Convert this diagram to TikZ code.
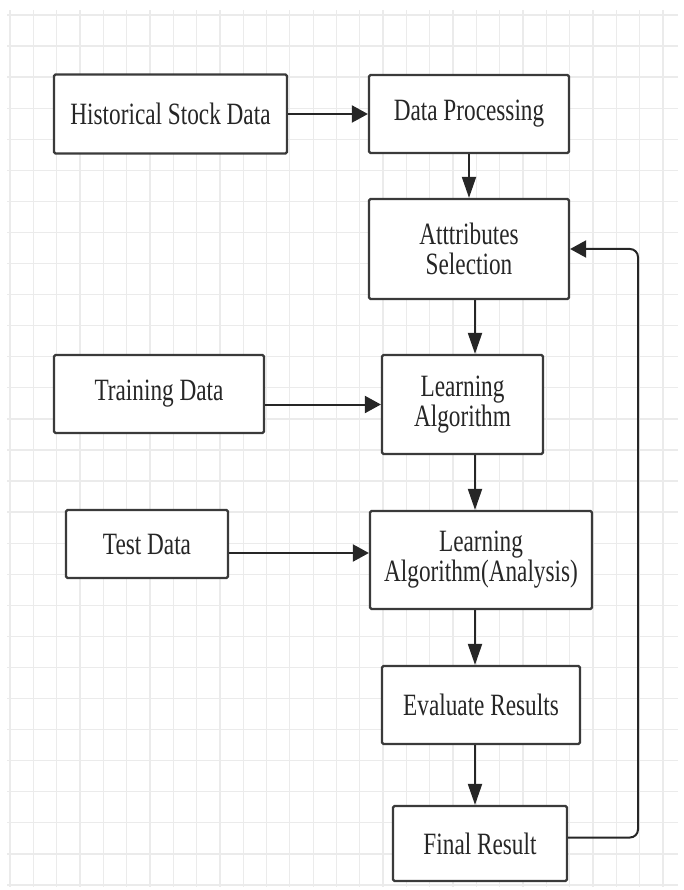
\documentclass[tikz,border=0pt]{standalone}
\usepackage{fontspec}
\setmainfont[FakeStretch=0.75]{Liberation Serif}
\usetikzlibrary{arrows.meta}
\definecolor{gridgray}{HTML}{EBEBEB}
\definecolor{boxline}{HTML}{3A3A3A}
\definecolor{inkblack}{HTML}{262626}
\begin{document}
\begin{tikzpicture}[x=1pt, y=-1pt,
    blk/.style={draw=boxline, line width=2.2pt, rounded corners=1.5pt, fill=white,
      text=inkblack, align=center, inner sep=0pt, font=\fontsize{31}{30}\selectfont},
    vflow/.style={draw=inkblack, line width=2pt, -{Triangle[length=21pt,width=14pt]}},
    hflow/.style={draw=inkblack, line width=2pt, -{Triangle[length=16pt,width=17pt]}}]
    \useasboundingbox (0,0) rectangle (683,890);
    % grid paper
    \foreach \i in {0,...,28} {
        \draw[gridgray, line width=1.3pt] (10+23.32*\i,10) -- (10+23.32*\i,887);
        \draw[gridgray, line width=1.3pt] (7,15+31.07*\i) -- (678,15+31.07*\i);
    }
    \node[blk, minimum width=233pt, minimum height=79pt] (hist) at (170.5,114) {Historical Stock Data};
    \node[blk, minimum width=200pt, minimum height=78pt] (proc) at (469,114) {Data Processing};
    \node[blk, minimum width=200pt, minimum height=100pt] (attr) at (469,249) {Atttributes\\Selection};
    \node[blk, minimum width=210pt, minimum height=78pt] (train) at (159,394) {Training Data};
    \node[blk, minimum width=161pt, minimum height=99pt] (learn) at (462.5,404.5) {Learning\\Algorithm};
    \node[blk, minimum width=162pt, minimum height=68pt] (test) at (147,544) {Test Data};
    \node[blk, minimum width=222pt, minimum height=98pt] (anal) at (481,560) {Learning\\Algorithm(Analysis)};
    \node[blk, minimum width=198pt, minimum height=78pt] (eval) at (481,705) {Evaluate Results};
    \node[blk, minimum width=174pt, minimum height=75pt] (fin) at (480,843.5) {Final Result};
    \coordinate (spine) at (475,0);
    \coordinate (loop) at (638,0);
    \coordinate (testout) at ([yshift=-9pt]test.east);
    \coordinate (finout) at ([yshift=6pt]fin.east);
    \draw[hflow] (hist) -- (proc);
    \draw[vflow] (proc) -- (attr);
    \draw[vflow] (attr.south -| spine) -- (learn.north -| spine);
    \draw[hflow] (learn.west -| train.east) -- (learn.west);
    \draw[vflow] (learn.south -| spine) -- (anal.north -| spine);
    \draw[hflow] (testout) -- (testout -| anal.west);
    \draw[vflow] (anal.south -| spine) -- (eval.north -| spine);
    \draw[vflow] (eval.south -| spine) -- (fin.north -| spine);
    \draw[hflow, rounded corners=8pt] (finout) -| (loop |- attr.east) -- (attr.east);
\end{tikzpicture}
\end{document}
